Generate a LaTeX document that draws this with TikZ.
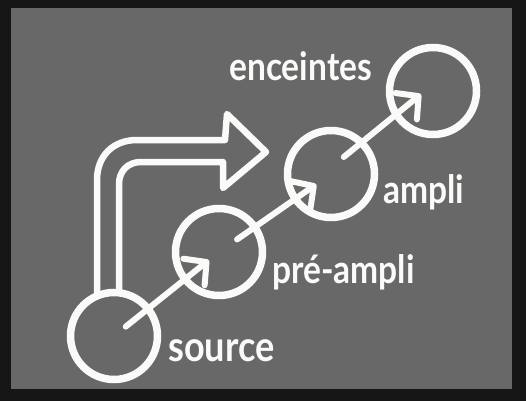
\documentclass[tikz,border=0pt]{standalone}
\usepackage{fontspec}
\setmainfont{Lato}[FakeStretch=0.86]
\usetikzlibrary{arrows.meta}
\definecolor{bgframe}{RGB}{22,22,22}
\definecolor{bggray}{RGB}{104,104,104}
\definecolor{chalk}{RGB}{250,250,248}
\tikzset{
  stage/.style={circle, draw=chalk, line width=7.5pt, minimum size=87pt, inner sep=0pt},
  flow/.style={draw=chalk, line width=6pt, line cap=round, -{Straight Barb[length=16pt,width=34pt,line cap=round,line join=round]}},
  lbl/.style={text=chalk, font=\fontsize{39}{39}\selectfont\bfseries, anchor=base west, inner sep=0pt},
  bigarrow/.style={draw=chalk, line width=6.5pt, line join=round, line cap=round}
}
\begin{document}
\begin{tikzpicture}[x=1pt,y=-1pt]
\useasboundingbox (0,0) rectangle (526,401);
\fill[bgframe] (0,0) rectangle (526,401);
\fill[bggray] (11,8) rectangle (512,389);
% stages
\node[stage] (src) at (114,336) {};
\node[stage] (pre) at (219,252) {};
\node[stage] (amp) at (331,174) {};
\node[stage] (enc) at (433,91) {};
% labels
\node[lbl, font=\fontsize{42}{42}\selectfont\bfseries] (lsrc) at (168,361) {source};
\node[lbl] (lpre) at (272,283) {pré-ampli};
\node[lbl] (lamp) at (383,203) {ampli};
\node[lbl] (lenc) at (229,81) {enceintes};
% connectors
\draw[flow, shorten <=15pt, shorten >=13pt] (src.center) -- (pre.center);
\draw[flow, shorten <=22pt, shorten >=18pt] (pre.center) -- (amp.center);
\draw[flow, shorten <=19pt, shorten >=13pt, transform canvas={xshift=-2pt,yshift=5pt}] (amp.center) -- (enc.center);
% big hollow arrow
\draw[bigarrow] (97,292) -- (97,180) .. controls (97,156) and (113,140) .. (137,140)
  -- (225,140) -- (227,114) -- (266,152) -- (223,188) -- (223,162) -- (141,162)
  .. controls (128,162) and (119,171) .. (119,184) -- (119,292);
\end{tikzpicture}
\end{document}
